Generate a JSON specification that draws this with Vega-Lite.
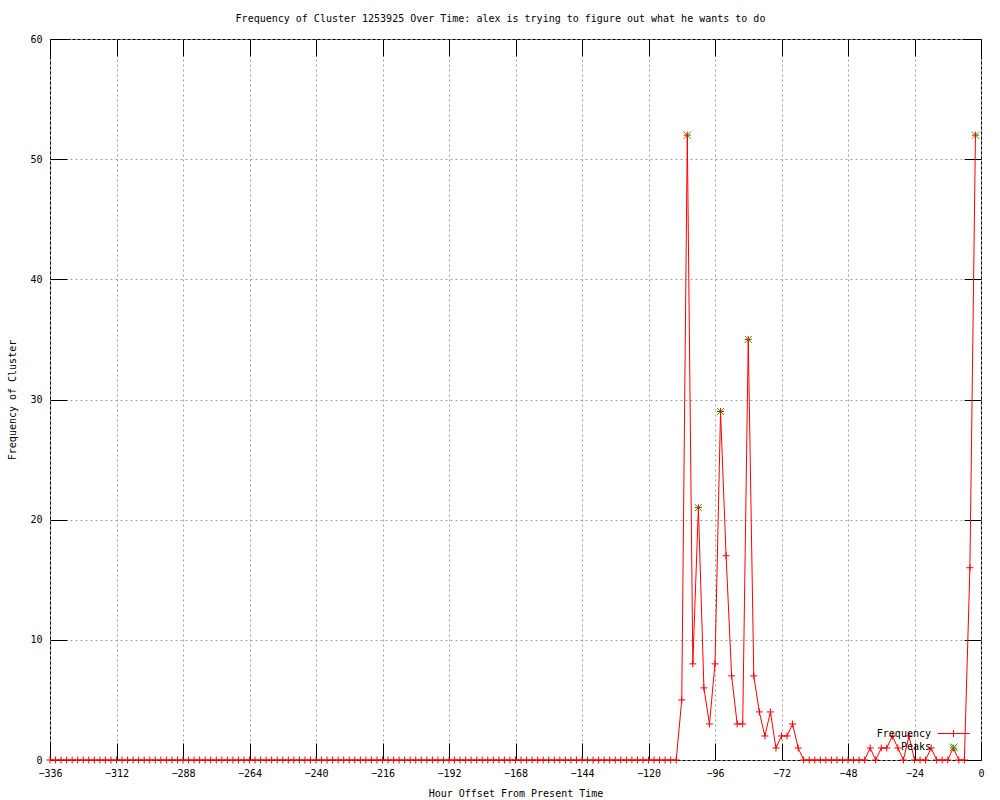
{
  "$schema": "https://vega.github.io/schema/vega-lite/v6.json",
  "width": 931,
  "height": 721,
  "autosize": {"type": "none"},
  "padding": {"left": 50, "top": 39, "right": 19, "bottom": 40},
  "background": "white",
  "title": {
    "text": "Frequency of Cluster 1253925 Over Time: alex is trying to figure out what he wants to do",
    "font": "DejaVu Sans Mono",
    "fontSize": 10,
    "fontWeight": "normal",
    "color": "black",
    "anchor": "middle",
    "frame": "group",
    "dx": -15,
    "baseline": "alphabetic",
    "offset": 2
  },
  "config": {
    "view": {"stroke": "black", "strokeWidth": 1},
    "font": "DejaVu Sans Mono",
    "axis": {
      "labelFont": "DejaVu Sans Mono",
      "labelFontSize": 10,
      "labelColor": "black",
      "titleFont": "DejaVu Sans Mono",
      "titleFontSize": 10,
      "titleFontWeight": "normal",
      "titleColor": "black",
      "tickColor": "black",
      "tickWidth": 1,
      "domain": false,
      "labelOverlap": false,
      "labelFlush": false
    },
    "legend": {
      "labelFont": "DejaVu Sans Mono",
      "labelFontSize": 10,
      "labelColor": "black"
    }
  },
  "datasets": {
    "freq": [
      {"hour": -336, "freq": 0}, {"hour": -334, "freq": 0}, {"hour": -332, "freq": 0}, {"hour": -330, "freq": 0},
      {"hour": -328, "freq": 0}, {"hour": -326, "freq": 0}, {"hour": -324, "freq": 0}, {"hour": -322, "freq": 0},
      {"hour": -320, "freq": 0}, {"hour": -318, "freq": 0}, {"hour": -316, "freq": 0}, {"hour": -314, "freq": 0},
      {"hour": -312, "freq": 0}, {"hour": -310, "freq": 0}, {"hour": -308, "freq": 0}, {"hour": -306, "freq": 0},
      {"hour": -304, "freq": 0}, {"hour": -302, "freq": 0}, {"hour": -300, "freq": 0}, {"hour": -298, "freq": 0},
      {"hour": -296, "freq": 0}, {"hour": -294, "freq": 0}, {"hour": -292, "freq": 0}, {"hour": -290, "freq": 0},
      {"hour": -288, "freq": 0}, {"hour": -286, "freq": 0}, {"hour": -284, "freq": 0}, {"hour": -282, "freq": 0},
      {"hour": -280, "freq": 0}, {"hour": -278, "freq": 0}, {"hour": -276, "freq": 0}, {"hour": -274, "freq": 0},
      {"hour": -272, "freq": 0}, {"hour": -270, "freq": 0}, {"hour": -268, "freq": 0}, {"hour": -266, "freq": 0},
      {"hour": -264, "freq": 0}, {"hour": -262, "freq": 0}, {"hour": -260, "freq": 0}, {"hour": -258, "freq": 0},
      {"hour": -256, "freq": 0}, {"hour": -254, "freq": 0}, {"hour": -252, "freq": 0}, {"hour": -250, "freq": 0},
      {"hour": -248, "freq": 0}, {"hour": -246, "freq": 0}, {"hour": -244, "freq": 0}, {"hour": -242, "freq": 0},
      {"hour": -240, "freq": 0}, {"hour": -238, "freq": 0}, {"hour": -236, "freq": 0}, {"hour": -234, "freq": 0},
      {"hour": -232, "freq": 0}, {"hour": -230, "freq": 0}, {"hour": -228, "freq": 0}, {"hour": -226, "freq": 0},
      {"hour": -224, "freq": 0}, {"hour": -222, "freq": 0}, {"hour": -220, "freq": 0}, {"hour": -218, "freq": 0},
      {"hour": -216, "freq": 0}, {"hour": -214, "freq": 0}, {"hour": -212, "freq": 0}, {"hour": -210, "freq": 0},
      {"hour": -208, "freq": 0}, {"hour": -206, "freq": 0}, {"hour": -204, "freq": 0}, {"hour": -202, "freq": 0},
      {"hour": -200, "freq": 0}, {"hour": -198, "freq": 0}, {"hour": -196, "freq": 0}, {"hour": -194, "freq": 0},
      {"hour": -192, "freq": 0}, {"hour": -190, "freq": 0}, {"hour": -188, "freq": 0}, {"hour": -186, "freq": 0},
      {"hour": -184, "freq": 0}, {"hour": -182, "freq": 0}, {"hour": -180, "freq": 0}, {"hour": -178, "freq": 0},
      {"hour": -176, "freq": 0}, {"hour": -174, "freq": 0}, {"hour": -172, "freq": 0}, {"hour": -170, "freq": 0},
      {"hour": -168, "freq": 0}, {"hour": -166, "freq": 0}, {"hour": -164, "freq": 0}, {"hour": -162, "freq": 0},
      {"hour": -160, "freq": 0}, {"hour": -158, "freq": 0}, {"hour": -156, "freq": 0}, {"hour": -154, "freq": 0},
      {"hour": -152, "freq": 0}, {"hour": -150, "freq": 0}, {"hour": -148, "freq": 0}, {"hour": -146, "freq": 0},
      {"hour": -144, "freq": 0}, {"hour": -142, "freq": 0}, {"hour": -140, "freq": 0}, {"hour": -138, "freq": 0},
      {"hour": -136, "freq": 0}, {"hour": -134, "freq": 0}, {"hour": -132, "freq": 0}, {"hour": -130, "freq": 0},
      {"hour": -128, "freq": 0}, {"hour": -126, "freq": 0}, {"hour": -124, "freq": 0}, {"hour": -122, "freq": 0},
      {"hour": -120, "freq": 0}, {"hour": -118, "freq": 0}, {"hour": -116, "freq": 0}, {"hour": -114, "freq": 0},
      {"hour": -112, "freq": 0}, {"hour": -110, "freq": 0}, {"hour": -108, "freq": 5}, {"hour": -106, "freq": 52},
      {"hour": -104, "freq": 8}, {"hour": -102, "freq": 21}, {"hour": -100, "freq": 6}, {"hour": -98, "freq": 3},
      {"hour": -96, "freq": 8}, {"hour": -94, "freq": 29}, {"hour": -92, "freq": 17}, {"hour": -90, "freq": 7},
      {"hour": -88, "freq": 3}, {"hour": -86, "freq": 3}, {"hour": -84, "freq": 35}, {"hour": -82, "freq": 7},
      {"hour": -80, "freq": 4}, {"hour": -78, "freq": 2}, {"hour": -76, "freq": 4}, {"hour": -74, "freq": 1},
      {"hour": -72, "freq": 2}, {"hour": -70, "freq": 2}, {"hour": -68, "freq": 3}, {"hour": -66, "freq": 1},
      {"hour": -64, "freq": 0}, {"hour": -62, "freq": 0}, {"hour": -60, "freq": 0}, {"hour": -58, "freq": 0},
      {"hour": -56, "freq": 0}, {"hour": -54, "freq": 0}, {"hour": -52, "freq": 0}, {"hour": -50, "freq": 0},
      {"hour": -48, "freq": 0}, {"hour": -46, "freq": 0}, {"hour": -44, "freq": 0}, {"hour": -42, "freq": 0},
      {"hour": -40, "freq": 1}, {"hour": -38, "freq": 0}, {"hour": -36, "freq": 1}, {"hour": -34, "freq": 1},
      {"hour": -32, "freq": 2}, {"hour": -30, "freq": 1}, {"hour": -28, "freq": 0}, {"hour": -26, "freq": 2},
      {"hour": -24, "freq": 0}, {"hour": -22, "freq": 0}, {"hour": -20, "freq": 0}, {"hour": -18, "freq": 1},
      {"hour": -16, "freq": 0}, {"hour": -14, "freq": 0}, {"hour": -12, "freq": 0}, {"hour": -10, "freq": 1},
      {"hour": -8, "freq": 0}, {"hour": -6, "freq": 0}, {"hour": -4, "freq": 16}, {"hour": -2, "freq": 52}
    ],
    "peaks": [
      {"hour": -106, "freq": 52},
      {"hour": -102, "freq": 21},
      {"hour": -94, "freq": 29},
      {"hour": -84, "freq": 35},
      {"hour": -10, "freq": 1},
      {"hour": -2, "freq": 52}
    ]
  },
  "layer": [
    {
      "data": {"name": "peaks"},
      "mark": {"type": "point", "shape": "M-1,-1L1,1M-1,1L1,-1", "filled": false, "strokeWidth": 1, "size": 49, "opacity": 1, "clip": false},
      "encoding": {
        "x": {"field": "hour", "type": "quantitative", "scale": {"domain": [-336, 0], "nice": false, "zero": false}, "axis": null},
        "y": {"field": "freq", "type": "quantitative", "scale": {"domain": [0, 60], "nice": false, "zero": true}, "axis": null},
        "color": {
          "datum": "Peaks", "type": "nominal",
          "scale": {"domain": ["Peaks"], "range": ["#00c000"]},
          "legend": {
            "orient": "none",
            "legendX": 899,
            "legendY": 703,
            "title": null,
            "labelAlign": "right",
            "labelOffset": -28,
            "symbolSize": 49,
            "symbolType": "M-1,-1L1,1M-1,1L1,-1",
            "symbolStrokeWidth": 1,
            "symbolStrokeColor": "#00c000",
            "symbolFillColor": "transparent",
            "encode": {"symbols": {"update": {"stroke": {"value": "#00c000"}, "opacity": {"value": 1}}}}
          }
        }
      }
    },
    {
      "data": {"name": "freq"},
      "mark": {"type": "line", "color": "#ff0000", "strokeWidth": 1, "clip": false},
      "encoding": {
        "x": {
          "field": "hour", "type": "quantitative",
          "axis": {
            "values": [-336, -312, -288, -264, -240, -216, -192, -168, -144, -120, -96, -72, -48, -24, 0],
            "grid": true, "gridColor": "#a0a0a0", "gridDash": [2, 3], "gridWidth": 1,
            "tickSize": -17, "labelPadding": 25,
            "title": "Hour Offset From Present Time", "titlePadding": 10
          }
        },
        "y": {
          "field": "freq", "type": "quantitative",
          "axis": {
            "values": [0, 10, 20, 30, 40, 50, 60],
            "grid": true, "gridColor": "#a0a0a0", "gridDash": [2, 3], "gridWidth": 1,
            "tickSize": -17, "labelPadding": 25,
            "title": "Frequency of Cluster", "titlePadding": 12
          }
        }
      }
    },
    {
      "data": {"name": "freq"},
      "mark": {"type": "point", "shape": "M-1,0L1,0M0,-1L0,1", "filled": false, "strokeWidth": 1, "size": 49, "opacity": 1, "clip": false},
      "encoding": {
        "x": {
          "field": "hour", "type": "quantitative",
          "axis": {
            "orient": "top",
            "values": [-336, -312, -288, -264, -240, -216, -192, -168, -144, -120, -96, -72, -48, -24, 0],
            "labels": false, "grid": false, "tickSize": -17, "title": null
          }
        },
        "y": {
          "field": "freq", "type": "quantitative",
          "axis": {
            "orient": "right",
            "values": [0, 10, 20, 30, 40, 50, 60],
            "labels": false, "grid": false, "tickSize": -17, "title": null
          }
        },
        "color": {
          "datum": "Frequency", "type": "nominal",
          "scale": {"domain": ["Frequency"], "range": ["#ff0000"]},
          "legend": {
            "orient": "none",
            "legendX": 887,
            "legendY": 678,
            "title": null,
            "labelAlign": "right",
            "labelOffset": -39,
            "symbolSize": 1024,
            "symbolType": "M-1,0L1,0M0,-0.22L0,0.22",
            "symbolStrokeWidth": 1,
            "symbolStrokeColor": "#ff0000",
            "symbolFillColor": "transparent",
            "encode": {"symbols": {"update": {"stroke": {"value": "#ff0000"}, "opacity": {"value": 1}}}}
          }
        }
      }
    }
  ],
  "resolve": {
    "axis": {"x": "independent", "y": "independent"},
    "scale": {"color": "independent"},
    "legend": {"color": "independent"}
  }
}
